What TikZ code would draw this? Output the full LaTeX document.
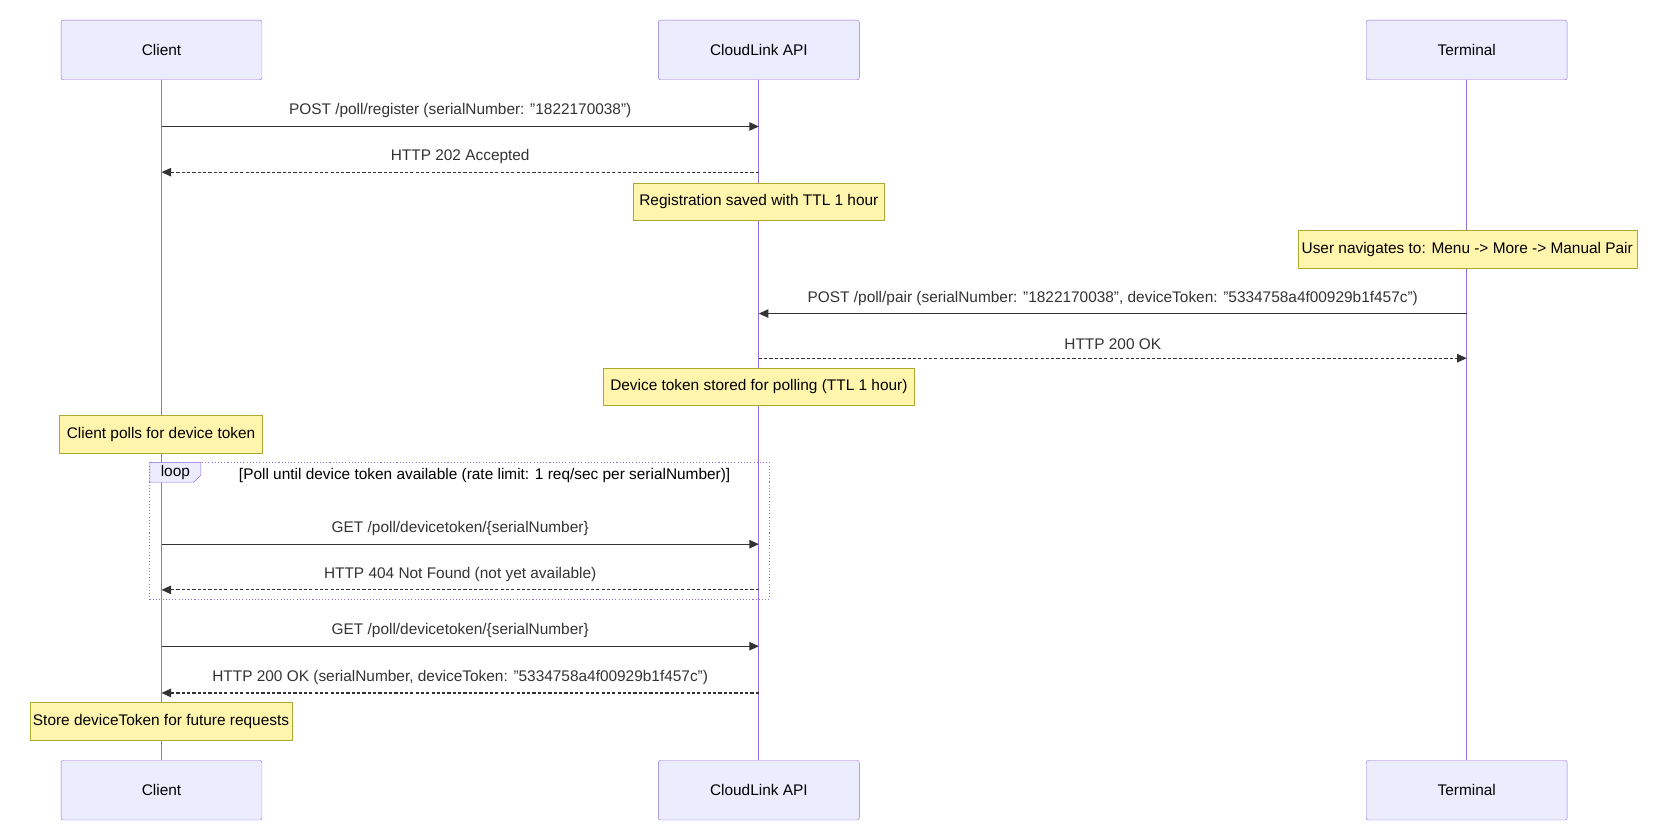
\documentclass[tikz,border=0pt]{standalone}
\usepackage{fontspec}
\setmainfont{Liberation Sans}
\usetikzlibrary{arrows.meta}
\definecolor{actfill}{HTML}{ECECFF}
\definecolor{actline}{HTML}{9370DB}
\definecolor{notefill}{HTML}{FFF5AD}
\definecolor{noteline}{HTML}{AAAA33}
\definecolor{txt}{HTML}{333333}
\begin{document}
\begin{tikzpicture}[x=1pt,y=-1pt,
  actor/.style={draw=actline,fill=actfill,rounded corners=2pt,minimum width=189pt,minimum height=56pt,font=\fontsize{14.5}{16}\selectfont,text=black},
  note/.style={draw=noteline,fill=notefill,minimum height=35pt,inner xsep=2pt,font=\fontsize{14.5}{16}\selectfont,text=black},
  life/.style={draw=actline,line width=1pt},
  msg/.style={draw=txt,line width=1pt,-{Triangle[length=9pt,width=8pt]}},
  rep/.style={msg,dash pattern=on 3pt off 2pt},
  lbl/.style={font=\fontsize{14.5}{16}\selectfont,text=txt}]
\useasboundingbox (0,0) rectangle (1560,788);
\node[actor] (c1) at (152,47) {Client};
\node[actor] (a1) at (714,47) {CloudLink API};
\node[actor] (t1) at (1380,47) {Terminal};
\node[actor] (c2) at (152,743.5) {Client};
\node[actor] (a2) at (714,743.5) {CloudLink API};
\node[actor] (t2) at (1380,743.5) {Terminal};
\draw[life] (c1) -- (c2);
\draw[life] (a1) -- (a2);
\draw[life] (t1) -- (t2);
% loop box
\draw[actline,line width=1pt,dotted] (141,435) rectangle (724,564);
\draw[actline,fill=actfill] (141,435) -- (189,435) -- (189,447) -- (182,454) -- (141,454) -- cycle;
\node[lbl,text=black] (lp) at (165,445) {loop};
\node[lbl,text=black] (lc) at (456,447) {[Poll until device token available (rate limit: 1 req/sec per serialNumber)]};
% messages
\foreach \n/\y in {1/119,2/162,5/512,6/555,7/608,8/652} {
  \coordinate (c\n) at (152,\y); \coordinate (a\n) at (714,\y);}
\foreach \n/\y in {3/295,4/337} {
  \coordinate (a\n) at (714,\y); \coordinate (t\n) at (1380,\y);}
\draw[msg] (c1) -- (a1) node[lbl,midway,above=4pt] {POST /poll/register (serialNumber: "1822170038")};
\draw[rep] (a2) -- (c2) node[lbl,midway,above=4pt] {HTTP 202 Accepted};
\draw[msg] (t3) -- (a3) node[lbl,midway,above=4pt] {POST /poll/pair (serialNumber: "1822170038", deviceToken: "5334758a4f00929b1f457c")};
\draw[rep] (a4) -- (t4) node[lbl,midway,above=4pt] {HTTP 200 OK};
\draw[msg] (c5) -- (a5) node[lbl,midway,above=4pt] {GET /poll/devicetoken/\{serialNumber\}};
\draw[rep] (a6) -- (c6) node[lbl,midway,above=4pt] {HTTP 404 Not Found (not yet available)};
\draw[msg] (c7) -- (a7) node[lbl,midway,above=4pt] {GET /poll/devicetoken/\{serialNumber\}};
\draw[rep] (a8) -- (c8) node[lbl,midway,above=4pt] {HTTP 200 OK (serialNumber, deviceToken: "5334758a4f00929b1f457c")};
% notes
\node[note,minimum width=236pt] (n1) at (714,189.5) {Registration saved with TTL 1 hour};
\node[note,minimum width=319pt] (n2) at (1380.5,234.5) {User navigates to: Menu -> More -> Manual Pair};
\node[note,minimum width=292pt] (n3) at (714,363.5) {Device token stored for polling (TTL 1 hour)};
\node[note,minimum width=191pt] (n4) at (151.5,408.5) {Client polls for device token};
\node[note,minimum width=247pt] (n5) at (151.5,678.5) {Store deviceToken for future requests};
\end{tikzpicture}
\end{document}
